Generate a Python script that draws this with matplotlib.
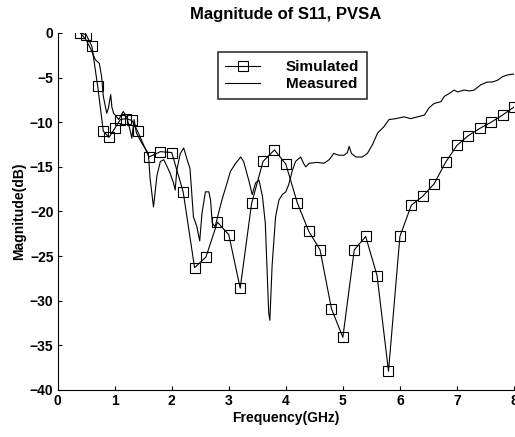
import matplotlib
matplotlib.use("Agg")
import matplotlib.pyplot as plt

plt.rcParams.update({'font.family': ['Liberation Sans', 'DejaVu Sans'],
                     'font.weight': 'bold', 'font.size': 10,
                     'axes.labelweight': 'bold', 'axes.titleweight': 'bold'})

# simulated S11 (markers)
sim_f = [0.4, 0.5, 0.6, 0.7, 0.8, 0.9, 1.0, 1.1, 1.2, 1.3, 1.4, 1.6, 1.8, 2.0,
         2.2, 2.4, 2.6, 2.8, 3.0, 3.2, 3.4, 3.6, 3.8, 4.0, 4.2, 4.4, 4.6, 4.8,
         5.0, 5.2, 5.4, 5.6, 5.8, 6.0, 6.2, 6.4, 6.6, 6.8, 7.0, 7.2, 7.4, 7.6,
         7.8, 8.0]
sim_db = [0.0, -0.2, -1.5, -5.9, -11.0, -11.7, -10.7, -9.7, -9.6, -9.8, -11.0,
          -13.9, -13.3, -13.4, -17.8, -26.3, -25.1, -21.2, -22.6, -28.6, -19.1,
          -14.4, -13.1, -14.7, -19.0, -22.2, -24.3, -30.9, -34.1, -24.3, -22.8,
          -27.2, -37.9, -22.8, -19.3, -18.3, -16.9, -14.5, -12.6, -11.5, -10.7,
          -10.0, -9.2, -8.3]

# measured S11 (line)
meas_f = [0.4, 0.5, 0.58, 0.66, 0.73, 0.77, 0.8, 0.86, 0.89, 0.93, 0.95, 0.98,
          1.07, 1.15, 1.21, 1.27, 1.3, 1.34, 1.38, 1.48, 1.59, 1.62, 1.68, 1.74,
          1.8, 1.86, 1.92, 1.97, 2.03, 2.06, 2.09, 2.15, 2.21, 2.27, 2.32, 2.38,
          2.44, 2.49, 2.53, 2.59, 2.65, 2.68, 2.71, 2.76, 2.82, 2.88, 2.97, 3.03,
          3.12, 3.21, 3.26, 3.35, 3.41, 3.47, 3.53, 3.59, 3.64, 3.7, 3.72, 3.76,
          3.82, 3.88, 3.94, 4.0, 4.05, 4.11, 4.17, 4.26, 4.31, 4.35, 4.41, 4.55,
          4.67, 4.76, 4.84, 4.93, 5.02, 5.08, 5.11, 5.15, 5.23, 5.34, 5.43, 5.52,
          5.61, 5.72, 5.81, 5.93, 6.07, 6.19, 6.31, 6.43, 6.51, 6.6, 6.72, 6.78,
          6.86, 6.95, 7.01, 7.13, 7.22, 7.3, 7.42, 7.53, 7.62, 7.71, 7.8, 7.89,
          8.0]
meas_db = [0.0, -0.8, -1.8, -3.0, -3.4, -4.9, -7.1, -9.0, -8.4, -6.9, -8.3, -9.0,
           -9.7, -8.8, -9.4, -10.9, -11.8, -9.7, -11.2, -12.4, -13.5, -16.3,
           -19.5, -16.0, -14.4, -14.2, -15.0, -15.7, -16.8, -17.6, -15.3, -13.5,
           -12.9, -14.2, -15.2, -20.6, -21.7, -23.3, -20.2, -17.8, -17.8, -18.7,
           -21.3, -21.7, -20.2, -18.7, -16.8, -15.5, -14.6, -13.9, -14.4, -16.5,
           -18.1, -16.8, -16.5, -18.3, -21.3, -31.4, -32.2, -26.0, -20.6, -18.7,
           -18.1, -17.8, -17.0, -15.5, -14.4, -13.9, -14.6, -15.0, -14.6, -14.5,
           -14.6, -14.2, -13.5, -13.7, -13.7, -13.4, -12.7, -13.5, -13.9, -13.9,
           -13.5, -12.5, -11.2, -10.5, -9.7, -9.6, -9.4, -9.6, -9.4, -9.2, -8.4,
           -7.9, -7.7, -7.1, -6.8, -6.4, -6.6, -6.4, -6.5, -6.4, -5.8, -5.5, -5.5,
           -5.3, -4.9, -4.7, -4.6]

fig = plt.figure(figsize=(5.15, 4.37), dpi=100)
ax = fig.add_axes([0.112, 0.1076, 0.886, 0.817])

ax.plot(sim_f, sim_db, color='black', linewidth=0.8, marker='s', markersize=7,
        markerfacecolor='none', markeredgecolor='black', markeredgewidth=0.8,
        label='Simulated')
ax.plot(meas_f, meas_db, color='black', linewidth=0.8, label='Measured')

ax.set_xlim(0, 8)
ax.set_ylim(-40, 0)
ax.set_xticks(range(0, 9))
ax.set_yticks(range(-40, 1, 5))
ax.spines['top'].set_visible(False)
ax.spines['right'].set_visible(False)
for s in ['left', 'bottom']:
    ax.spines[s].set_linewidth(0.8)
ax.tick_params(direction='in', length=3, width=0.8, pad=3)

ax.set_xlabel('Frequency(GHz)', labelpad=2)
ax.set_ylabel('Magnitude(dB)', labelpad=3)
ax.set_title('Magnitude of S11, PVSA', pad=10)

leg = ax.legend(loc='upper left', bbox_to_anchor=(0.351, 0.947), frameon=True,
                fancybox=False, edgecolor='black', handlelength=2.5,
                handletextpad=1.85, borderpad=0.55, labelspacing=0.25,
                borderaxespad=0)
leg.get_frame().set_linewidth(1.2)
for t in leg.get_texts():
    t.set_fontsize(11)

fig.savefig('out.png', dpi=100)
